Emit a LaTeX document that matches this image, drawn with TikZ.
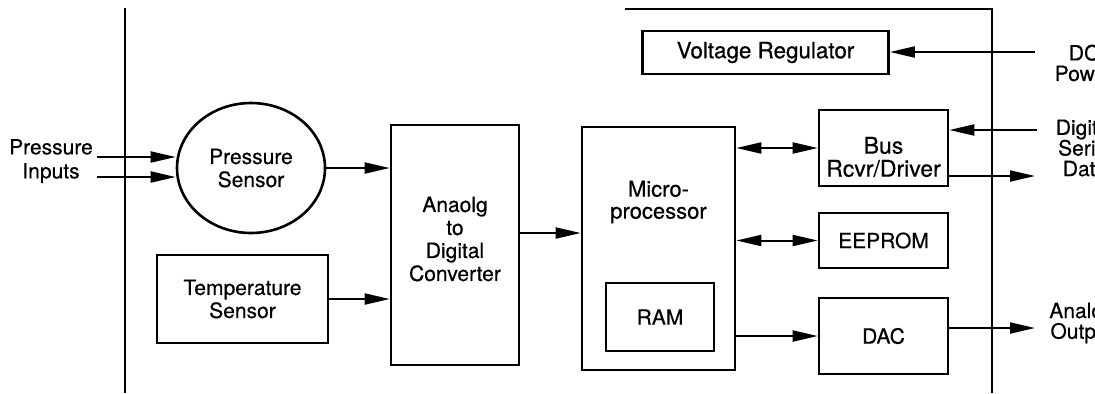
\documentclass[tikz,border=0pt]{standalone}
\usepackage{fontspec}
\setmainfont{TeX Gyre Heros}[UprightFeatures={FakeBold=0.45}]
\usetikzlibrary{arrows.meta,shapes.geometric,calc}
\begin{document}
\begin{tikzpicture}[x=0.5pt,y=-0.5pt,
  box/.style={draw,line width=1.3pt,inner sep=0pt,align=center,font=\fontsize{10.5}{11.5}\selectfont},
  txt/.style={align=center,font=\fontsize{10.5}{11.5}\selectfont,inner sep=0pt},
  lbl/.style={align=center,font=\fontsize{10.5}{10.3}\selectfont,inner sep=0pt},
  tipA/.tip={Triangle[length=12.5pt,width=5.5pt]},
  conn/.style={line width=1pt,-tipA},
  dconn/.style={line width=1pt,tipA-tipA},
  frame/.style={line width=1pt}]
\useasboundingbox (0,0) rectangle (1095,393);
\clip (0,0) rectangle (1095,393);

% frame lines
\draw[frame] (125,8) -- (125,393);
\draw[frame] (625,9) -- (992,9) -- (992,393);

% blocks
\node[box,ellipse,minimum width=74pt,minimum height=65pt] (ps) at (251,168) {Pressure\\Sensor};
\node[box,minimum width=85.5pt,minimum height=44pt] (temp) at (242.5,299) {Temperature\\Sensor};
\node[box,minimum width=64pt,minimum height=120pt] (adc) at (455,245) {};
\node[txt] (adctxt) at (455,239) {Anaolg\\to\\Digital\\Converter};
\node[box,minimum width=76.5pt,minimum height=121.5pt] (micro) at (658.5,248.5) {};
\node[txt,font=\fontsize{11}{11}\selectfont] (microtxt) at (658.5,202) {Micro-\\processor};
\node[box,minimum width=54pt,minimum height=34pt] (ram) at (660,317) {RAM};
\node[box,minimum width=123pt,minimum height=21.5pt,font=\fontsize{11.2}{11.5}\selectfont] (vreg) at (765.5,52.5) {Voltage Regulator};
\node[box,minimum width=64.5pt,minimum height=38pt] (bus) at (883.5,148) {};
\node[txt,font=\fontsize{11.5}{11.5}\selectfont] (bustxt) at (883.5,157) {Bus\\Rcvr/Driver};
\node[box,minimum width=64.5pt,minimum height=27.5pt] (eeprom) at (883.5,240.5) {EEPROM};
\node[box,minimum width=64.5pt,minimum height=38pt] (dac) at (883.5,336) {DAC};

% outside labels
\node[lbl,font=\fontsize{10.5}{12}\selectfont] (pin) at (51,161) {Pressure\\Inputs};
\node[lbl] (dcp) at (1084,63) {DC\\Power};
\node[lbl] (dsd) at (1085,148) {Digital\\Serial\\Data};
\node[lbl] (aop) at (1082,323) {Analog\\Output};

% connectors
\coordinate (pin1) at (97,157);
\coordinate (pin2) at (97,177);
\draw[conn] (pin1) -- (pin1 -| ps.west);
\draw[conn] (pin2) -- (pin2 -| ps.west);
\draw[conn] (ps.east) -- (ps.east -| adc.west);
\draw[conn] (temp.east) -- (temp.east -| adc.west);
\coordinate (adcout) at ($(adc.east)+(0,-12)$);
\draw[conn] (adcout) -- (adcout -| micro.west);
\draw[dconn] (micro.east |- bus.west) -- (bus.west);
\draw[dconn] (micro.east |- eeprom.west) -- (eeprom.west);
\draw[conn] (micro.east |- dac.west) -- (dac.west);
\coordinate (dcin) at (1035,52);
\draw[conn] (dcin) -- (dcin -| vreg.east);
\coordinate (dsin) at (1037,130);
\draw[conn] (dsin) -- (dsin -| bus.east);
\coordinate (dsout) at (1035,176);
\draw[conn] (dsout -| bus.east) -- (dsout);
\coordinate (aout) at (1035,328);
\draw[conn] (aout -| dac.east) -- (aout);
\end{tikzpicture}
\end{document}
